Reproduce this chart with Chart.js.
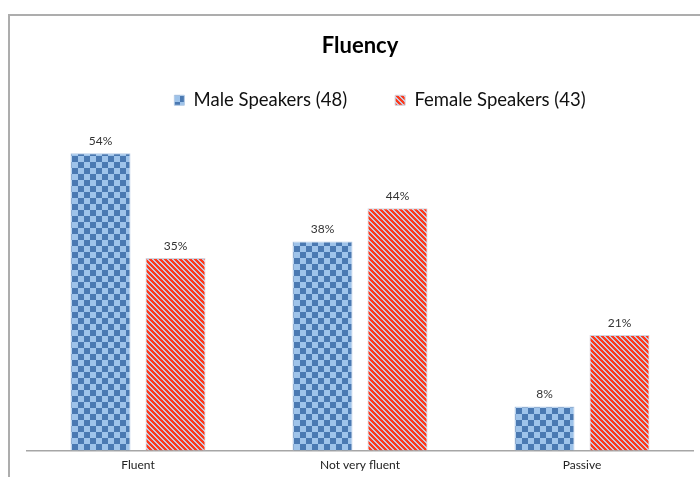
<!DOCTYPE html>
<html>
<head>
<meta charset="utf-8">
<script src="https://cdn.jsdelivr.net/npm/chart.js@4"></script>
<style>
  html, body { margin: 0; padding: 0; background: #fff; overflow: hidden; }
  #wrap { position: relative; width: 700px; height: 489px; }
</style>
</head>
<body>
<div id="wrap"><canvas id="chart"></canvas></div>
<script>
// chart data
const categories = ['Fluent', 'Not very fluent', 'Passive'];
const seriesNames = ['Male Speakers (48)', 'Female Speakers (43)'];
const maleValues = [54, 38, 8];
const femaleValues = [35, 44, 21];

// checkered blue fill
function checkerPattern(dark, light, cell) {
  const c = document.createElement('canvas');
  c.width = c.height = cell * 2;
  const g = c.getContext('2d');
  g.fillStyle = light;
  g.fillRect(0, 0, cell * 2, cell * 2);
  g.fillStyle = dark;
  g.fillRect(0, 0, cell, cell);
  g.fillRect(cell, cell, cell, cell);
  return g.createPattern(c, 'repeat');
}

// diagonal red stripes (top-left to bottom-right)
function stripePattern(fg, bg, period, thick) {
  const c = document.createElement('canvas');
  c.width = c.height = period;
  const g = c.getContext('2d');
  g.fillStyle = bg;
  g.fillRect(0, 0, period, period);
  g.fillStyle = fg;
  for (let y = 0; y < period; y++) {
    for (let x = 0; x < period; x++) {
      if ((((x - y) % period) + period) % period < thick) g.fillRect(x, y, 1, 1);
    }
  }
  return g.createPattern(c, 'repeat');
}

const bluePattern = checkerPattern('#4a79b2', '#9ec3ea', 6);
const redPattern = stripePattern('#fd3a1c', '#c6c8dc', 5, 3);

const framePlugin = {
  id: 'frame',
  beforeDraw(chart) {
    const ctx = chart.ctx;
    ctx.save();
    ctx.strokeStyle = '#adadad';
    ctx.lineWidth = 2;
    ctx.beginPath();
    ctx.moveTo(9, 489);
    ctx.lineTo(9, 15);
    ctx.lineTo(700, 15);
    ctx.stroke();
    ctx.restore();
  }
};

// nudge legend right and up to sit like the original
const legendShift = {
  id: 'legendShift',
  afterLayout(chart) {
    const lg = chart.legend;
    lg.left += 20;
    lg.right += 20;
    lg.top -= 14;
    lg.bottom -= 14;
  }
};

const valueLabels = {
  id: 'valueLabels',
  afterDatasetsDraw(chart) {
    const ctx = chart.ctx;
    ctx.save();
    ctx.font = '12px Lato, "Liberation Sans", sans-serif';
    ctx.fillStyle = '#333';
    ctx.textAlign = 'center';
    ctx.textBaseline = 'bottom';
    chart.data.datasets.forEach((ds, i) => {
      chart.getDatasetMeta(i).data.forEach((bar, j) => {
        ctx.fillText(ds.data[j] + '%', bar.x, bar.y - 6);
      });
    });
    ctx.restore();
  }
};

new Chart(document.getElementById('chart'), {
  type: 'bar',
  data: {
    labels: categories,
    datasets: [
      {
        label: seriesNames[0],
        data: maleValues,
        backgroundColor: bluePattern,
        borderColor: '#b4cbe6',
        borderWidth: 1
      },
      {
        label: seriesNames[1],
        data: femaleValues,
        backgroundColor: redPattern,
        borderColor: '#d6d3dc',
        borderWidth: 1
      }
    ]
  },
  options: {
    responsive: true,
    maintainAspectRatio: false,
    animation: false,
    categoryPercentage: 0.676,
    barPercentage: 0.8,
    layout: { padding: { left: 27, right: 7, top: 0, bottom: 10 } },
    plugins: {
      title: {
        display: true,
        text: 'Fluency',
        color: '#000',
        font: { family: 'Lato', size: 22, weight: 'bold', lineHeight: 1 },
        padding: { top: 35, bottom: 0 }
      },
      legend: {
        position: 'top',
        labels: {
          color: '#111',
          font: { family: 'Lato', size: 18.5 },
          boxWidth: 10,
          boxHeight: 10,
          padding: 48
        }
      },
      tooltip: { enabled: false }
    },
    scales: {
      x: {
        grid: { display: false, drawTicks: false },
        border: { display: true, color: '#a6a6a6', width: 1.5 },
        ticks: { color: '#222', font: { family: 'Lato', size: 12 }, padding: 7 }
      },
      y: {
        display: false,
        min: 0,
        max: 57.6
      }
    }
  },
  plugins: [framePlugin, legendShift, valueLabels]
});
</script>
</body>
</html>
